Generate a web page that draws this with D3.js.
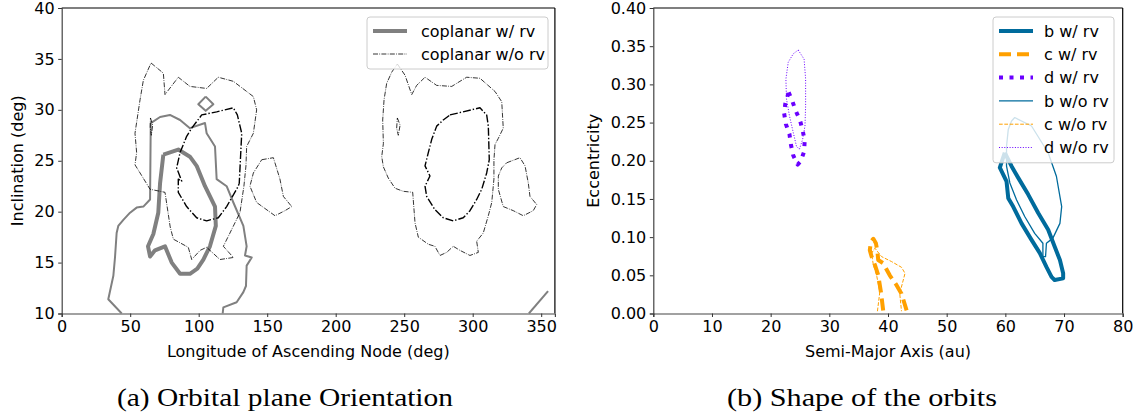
<!DOCTYPE html>
<html><head><meta charset="utf-8">
<script src="https://cdn.jsdelivr.net/npm/d3@7"></script>
<style>
html,body{margin:0;padding:0;background:#fff;}
svg text{font-family:"DejaVu Sans",sans-serif;fill:#000;}
</style></head>
<body><svg id="c" width="1140" height="419"></svg>
<script>
// ---------- tick values ----------
const leftXTicks = [0,50,100,150,200,250,300,350];
const leftYTicks = [10,15,20,25,30,35,40];
const rightXTicks = [0,10,20,30,40,50,60,70,80];
const rightYTicks = [0,0.05,0.10,0.15,0.20,0.25,0.30,0.35,0.40];

// ---------- panel (a): contours [Omega deg, inclination deg] ----------
const wrvOuter = [[43.8,10],[34,11.4],[37.7,13.7],[38.9,15.5],[40.1,17.9],[41.3,18.6],[45,19.2],[49.9,19.9],[54.7,20.4],[59.6,20.5],[64.5,21.2],[65,28.7],[71.8,29.3],[79,29.5],[86.4,29.0],[93.6,28.2],[104.6,28.7],[105.8,27.7],[111.9,26.4],[113.1,23.2],[120.4,22.5],[125.3,20.9],[132.6,18.6],[135,16.6],[133.8,15.7],[138.7,15.5],[135,14.7],[134.5,12.7],[132.6,12.1],[127.7,11.1],[118,10.6],[117.5,10]];
const wrvCorner = [[341,10],[355,12.2]];
const wrvDiamond = [[105.1,31.3],[110.7,30.55],[105.1,29.9],[99.7,30.55],[105.1,31.3]];
const wrvInner = [[74.2,25.6],[85.1,26.1],[93.6,25.4],[98.5,24.5],[104.6,22.5],[111.9,20.5],[112.5,18.6],[108.2,16.6],[103.4,15.3],[99,14.4],[93.6,13.9],[86.4,13.9],[80.3,15.0],[75.4,16.6],[68.1,16.2],[64.5,15.6],[63,16.6],[66.9,17.8],[70.5,19.9],[71.8,22.8],[74.2,25.6]];
const worvOuterA = [[65.2,34.6],[74.2,33.6],[75.4,31.5],[85.1,33.2],[93.6,32.3],[105.8,32.1],[114.3,33.2],[125.3,32.8],[139.9,31.3],[142.3,30.0],[139.9,27.7],[135,26.4],[134.5,24.5],[133,22.5],[130.1,19.9],[122.8,17.9],[118,16.6],[125.3,15.5],[115.5,15.3],[105.8,16.5],[101,16.2],[94.9,15.3],[92.4,16.5],[81.5,17.3],[79.2,18.5],[75.4,21.9],[64.5,22.2],[57.2,23.8],[53.5,24.6],[54.7,25.8],[53.5,27.7],[57.2,31.0],[59.6,32.9],[65.2,34.6]];
const worvInnerA = [[94.9,28.2],[102.2,29.5],[113.1,29.8],[125.3,30.2],[128.2,29.5],[131.4,27.7],[129.6,22.8],[128.9,22.5],[120.4,20.5],[114.3,19.4],[105.8,19.1],[98.5,19.4],[91.2,20.5],[85.1,21.9],[85.1,23.2],[87.6,23.0],[83.9,24.3],[86.4,25.8],[91.2,27.4],[94.9,28.2]];
const worvLobeA = [[146,25.1],[154.5,25.3],[159.3,23.2],[161.8,21.5],[167.9,20.5],[163,20.1],[155.7,19.6],[142.3,20.9],[137.4,22.5],[139.9,23.8],[146,25.1]];
const worvSpikeA = [[64.8,29.2],[66.4,28.5],[65.4,27.5],[64.6,28.3],[64.8,29.2]];
const worvOuterB = [[245,34.5],[250.6,33.4],[255.5,31.5],[259.1,32.4],[265.2,33.2],[273.7,32.4],[284.7,32.3],[290.7,32.8],[295.6,33.2],[305.3,33.1],[316.3,31.8],[321.2,30.8],[322.3,28.2],[318.7,27.2],[316.3,26.6],[315.5,25.1],[315.5,23.2],[313.9,20.9],[311.4,19.6],[307.7,17.9],[302.9,17.1],[304.1,16.0],[298,15.7],[290.7,16.2],[285.8,16.6],[281,16.0],[276.1,15.7],[272.4,16.6],[267.6,16.8],[260.3,17.5],[257.9,18.9],[256.2,21.9],[249.3,22.0],[243.3,22.3],[238.4,23.3],[234.8,24.4],[233.6,25.4],[234.8,26.7],[234.3,29.0],[235.3,31.0],[237.2,32.6],[240.9,33.7],[245,34.5]];
const worvInnerB = [[283.4,29.5],[305.3,30.2],[310.2,29.5],[311.4,28.4],[312.1,25.1],[310.2,23.8],[306.6,22.2],[302.9,21.2],[298,20.1],[293.1,19.4],[285.8,19.1],[278.5,19.4],[272.4,20.2],[266.4,21.5],[265.2,22.5],[268.8,23.5],[265.2,24.5],[267.6,25.8],[270.1,27.1],[273.7,28.4],[278.5,29.0],[283.4,29.5]];
const worvLobeB = [[324.8,24.8],[334.5,25.3],[338.2,24.5],[340.6,22.8],[341.8,21.5],[346.7,20.7],[344.2,20.1],[336.9,19.6],[329.6,20.1],[322.3,20.5],[318.7,22.2],[318.7,23.5],[321.2,24.3],[324.8,24.8]];
const worvSpikeB = [[245,29.2],[247,28.5],[245.7,27.5],[244.5,28.2],[245,29.2]];

// ---------- panel (b): contours [a (au), e] ----------
const bWith = [[59.9,0.2105],[59.06,0.191],[60.2,0.173],[60.5,0.151],[61.33,0.140],[62.76,0.118],[64.46,0.0964],[65.88,0.079],[67.0,0.061],[67.87,0.048],[68.4,0.0438],[69.85,0.046],[69.85,0.0526],[69.3,0.070],[68.4,0.0876],[67.3,0.1096],[65.6,0.1316],[63.9,0.1557],[62.2,0.1776],[61.06,0.1929],[59.9,0.2105]];
const cWith = [[39.18,0.004],[38.79,0.0284],[38.33,0.0504],[37.77,0.0636],[37.2,0.0745],[36.9,0.083],[37.09,0.094],[37.5,0.0978],[37.94,0.092],[38.2,0.081],[38.33,0.070],[39.18,0.0658],[40.3,0.050],[41.46,0.037],[42.3,0.026],[43.17,0.004]];
const dWith = [[23.07,0.2895],[23.7,0.278],[24.3,0.265],[25.0,0.253],[25.45,0.240],[25.8,0.226],[25.7,0.212],[25.1,0.199],[24.6,0.195],[23.85,0.207],[23.46,0.221],[23.2,0.235],[22.6,0.248],[22.3,0.262],[22.5,0.275],[23.07,0.2895]];
const bWithout = [[61.6,0.2566],[64.46,0.2455],[67.3,0.2105],[68.7,0.1797],[69.6,0.140],[69.3,0.118],[68.1,0.0987],[67.0,0.092],[66.85,0.0745],[66.4,0.0745],[66.4,0.092],[65.0,0.105],[63.3,0.127],[61.9,0.149],[60.77,0.171],[60.2,0.193],[60.2,0.219],[60.5,0.241],[61.06,0.252],[61.6,0.2566]];
const cWithout = [[38.2,0.003],[38.6,0.028],[38.06,0.050],[37.5,0.0636],[37.2,0.079],[37.77,0.0855],[38.9,0.0745],[40.6,0.068],[42.3,0.0605],[42.9,0.0526],[42.6,0.0438],[42.0,0.0263],[42.3,0.003]];
const dWithout = [[24.7,0.345],[25.7,0.333],[25.96,0.307],[25.96,0.272],[25.85,0.2455],[25.45,0.228],[24.9,0.215],[24.4,0.219],[23.85,0.237],[23.2,0.259],[22.7,0.281],[22.6,0.307],[23.0,0.329],[23.85,0.340],[24.7,0.345]];

const leftLegend = ["coplanar w/ rv","coplanar w/o rv"];
const rightLegend = ["b w/ rv","c w/ rv","d w/ rv","b w/o rv","c w/o rv","d w/o rv"];
const captions = ["(a) Orbital plane Orientation","(b) Shape of the orbits"];

// ---------- styles ----------
const GRAY = "#808080", BLUE = "#006b9c", ORANGE = "#ffa000", PURPLE = "#6a00ff";
const FS = 16;
const sty = {
  wrvThick:{stroke:GRAY,w:4,dash:null},
  wrvThin:{stroke:GRAY,w:2,dash:null},
  worvThick:{stroke:"#000",w:1.4,dash:"8,2,1.4,2"},
  worvThin:{stroke:"#000",w:0.8,dash:"5,1.3,0.8,1.3"},
  bW:{stroke:BLUE,w:4,dash:null},
  cW:{stroke:ORANGE,w:4,dash:"12,6"},
  dW:{stroke:PURPLE,w:4,dash:"4,6.5"},
  bWo:{stroke:BLUE,w:1.3,dash:null},
  cWo:{stroke:ORANGE,w:1,dash:"3.7,1.6"},
  dWo:{stroke:PURPLE,w:1,dash:"1,1.65"}
};

const svg = d3.select("#c");
const TOP = 8, BOT = 313.5;

function panel(xDom, xRange, yDom, xTicks, yTicks, xFmt, yFmt, xLabel, yLabel, yLabelX){
  const x = d3.scaleLinear().domain(xDom).range(xRange);
  const y = d3.scaleLinear().domain(yDom).range([BOT, TOP]);
  const g = svg.append("g");
  const clipId = "clip" + Math.round(xRange[0]);
  svg.append("clipPath").attr("id", clipId).append("rect")
    .attr("x", xRange[0]).attr("y", TOP).attr("width", xRange[1]-xRange[0]).attr("height", BOT-TOP);
  const plot = g.append("g").attr("clip-path", `url(#${clipId})`);
  g.append("line").attr("x1",xRange[0]).attr("x2",xRange[1]).attr("y1",TOP).attr("y2",TOP).attr("stroke","#000").attr("stroke-width",1.2);
  g.append("line").attr("x1",xRange[1]).attr("x2",xRange[1]).attr("y1",TOP).attr("y2",BOT).attr("stroke","#000").attr("stroke-width",1.2);
  const xa = g.append("g").attr("transform",`translate(0,${BOT})`)
    .call(d3.axisBottom(x).tickValues(xTicks).tickFormat(xFmt).tickSizeOuter(0).tickSize(3.5).tickPadding(3.5));
  const ya = g.append("g").attr("transform",`translate(${xRange[0]},0)`)
    .call(d3.axisLeft(y).tickValues(yTicks).tickFormat(yFmt).tickSizeOuter(0).tickSize(3.5).tickPadding(3.5));
  [xa, ya].forEach(a => {
    a.selectAll("text").attr("font-size", FS).attr("font-family","DejaVu Sans").attr("fill","#000");
    a.selectAll("line").attr("stroke","#333").attr("stroke-width",1);
    a.select(".domain").attr("stroke","#444").attr("stroke-width",1.2);
  });
  g.append("text").attr("x",(xRange[0]+xRange[1])/2).attr("y",357).attr("text-anchor","middle")
    .attr("font-size",FS).text(xLabel);
  g.append("text").attr("transform",`translate(${yLabelX},${(TOP+BOT)/2}) rotate(-90)`).attr("text-anchor","middle")
    .attr("font-size",FS).text(yLabel);
  return {x, y, plot, g};
}

const A = panel([0,360],[61.7,554.9],[10,40],leftXTicks,leftYTicks,d3.format("d"),d3.format("d"),
  "Longitude of Ascending Node (deg)","Inclination (deg)",23);
const B = panel([0,80],[653.3,1122.7],[0,0.4],rightXTicks,rightYTicks,d3.format("d"),d3.format(".2f"),
  "Semi-Major Axis (au)","Eccentricity",599);

function draw(P, data, s){
  const line = d3.line().x(d => P.x(d[0])).y(d => P.y(d[1]));
  const p = P.plot.append("path").attr("d", line(data)).attr("fill","none")
    .attr("stroke", s.stroke).attr("stroke-width", s.w).attr("stroke-linejoin","round");
  if (s.dash) p.attr("stroke-dasharray", s.dash);
  return p;
}
[wrvOuter, wrvCorner, wrvDiamond].forEach(d => draw(A, d, sty.wrvThin));
draw(A, wrvInner, sty.wrvThick);
[worvOuterA, worvLobeA, worvSpikeA, worvOuterB, worvLobeB, worvSpikeB].forEach(d => draw(A, d, sty.worvThin));
[worvInnerA, worvInnerB].forEach(d => draw(A, d, sty.worvThick));
draw(B, bWith, sty.bW);
draw(B, cWith, sty.cW).attr("stroke-linecap","butt");
draw(B, dWith, sty.dW);
draw(B, bWithout, sty.bWo);
draw(B, cWithout, sty.cWo);
draw(B, dWithout, sty.dWo);

function legend(x0, y0, w, rowH, labels, styles, textX, sampleW){
  const lg = svg.append("g");
  lg.append("rect").attr("x",x0).attr("y",y0).attr("width",w).attr("height",rowH*labels.length+6)
    .attr("rx",3).attr("fill","#fff").attr("fill-opacity",0.8).attr("stroke","#ccc").attr("stroke-width",1);
  labels.forEach((lab,i) => {
    const cy = y0 + 14 + i*rowH;
    const s = styles[i];
    const l = lg.append("line").attr("x1",x0+6).attr("x2",x0+6+sampleW).attr("y1",cy).attr("y2",cy)
      .attr("stroke",s.stroke).attr("stroke-width",s.w);
    if (s.dash) l.attr("stroke-dasharray", s.dash);
    lg.append("text").attr("x",textX).attr("y",cy).attr("dy","0.35em").attr("font-size",FS).text(lab);
  });
}
legend(367, 17, 181, 23, leftLegend, [sty.wrvThick, sty.worvThin], 421, 34);
legend(993, 17, 121, 23.3, rightLegend, [sty.bW, sty.cW, sty.dW, sty.bWo, sty.cWo, sty.dWo], 1044, 34);

svg.append("text").attr("x",117).attr("y",406).attr("textLength",336).attr("lengthAdjust","spacingAndGlyphs")
  .style("font-family","'Liberation Serif',serif").attr("font-size",26).text(captions[0]);
svg.append("text").attr("x",727).attr("y",406).attr("textLength",270).attr("lengthAdjust","spacingAndGlyphs")
  .style("font-family","'Liberation Serif',serif").attr("font-size",26).text(captions[1]);
</script></body></html>
